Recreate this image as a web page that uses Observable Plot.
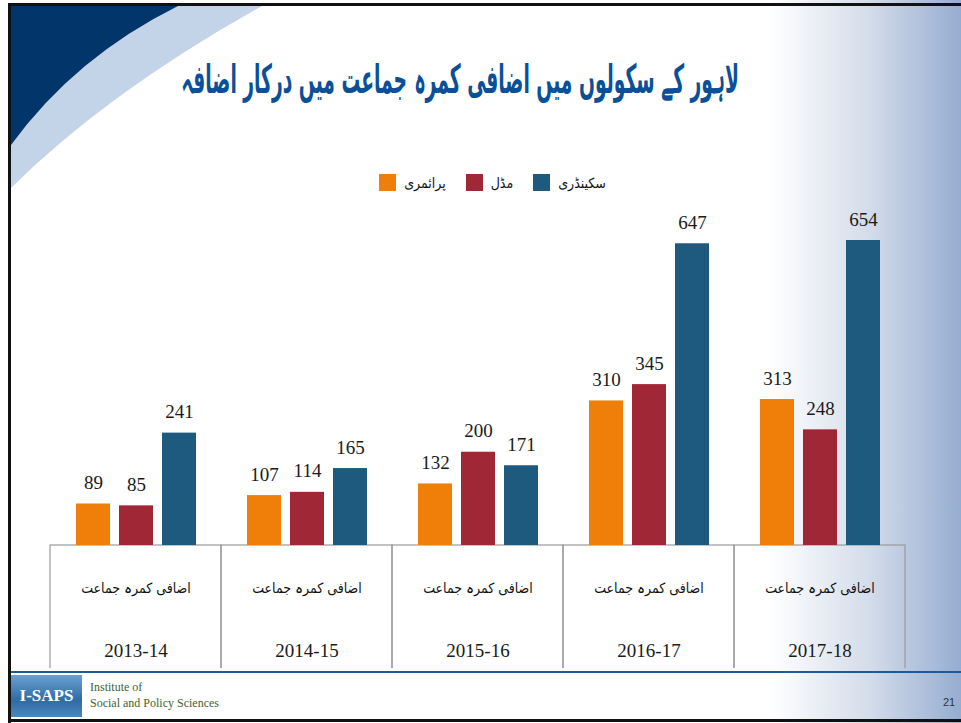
<!DOCTYPE html>
<html>
<head>
<meta charset="utf-8">
<script src="https://cdn.jsdelivr.net/npm/d3@7"></script>
<script src="https://cdn.jsdelivr.net/npm/@observablehq/plot@0.6"></script>
<style>
  html, body { margin: 0; padding: 0; background: #fff; }
  #slide { position: relative; width: 961px; height: 723px; overflow: hidden;
    background: linear-gradient(to right, #ffffff 0px, #ffffff 770px, #d3dcea 870px, #96add1 961px); }
  .abs { position: absolute; }
  #title { left: -290px; width: 1500px; top: 56px; text-align: center; direction: rtl; white-space: nowrap;
    font-family: "DejaVu Sans Condensed", "DejaVu Sans", sans-serif; font-weight: bold; font-size: 40px; color: #0b5097;
    transform: scaleX(0.52); transform-origin: 750px 50%; }
  #legend { left: 0; width: 961px; top: 174px; display: flex; justify-content: center; align-items: center;
    direction: ltr; font-family: "DejaVu Sans Condensed", "DejaVu Sans", sans-serif; font-size: 14px; color: #111; padding-left: 24px; box-sizing: border-box; }
  .sw { width: 17px; height: 17px; display: inline-block; margin-right: 8px; }
  .lab { margin-right: 20px; direction: rtl; }
  .lab:last-child { margin-right: 0; }
  #chart { left: 0; top: 200px; }
  #footline { left: 11px; top: 671px; width: 950px; height: 2px; background: #1d5a9a; }
  #logo { left: 11px; top: 675px; width: 71px; height: 42px;
    background: linear-gradient(to bottom, #6aa0cf, #2e6ca6 60%, #4d86bb); color: #fff;
    font-family: "Liberation Serif", serif; font-weight: bold; font-size: 17px; line-height: 42px; text-align: center; }
  #inst { left: 90px; top: 679px; font-family: "Liberation Serif", serif; font-size: 12px; line-height: 16px; color: #3f6331; }
  #page { left: 943px; top: 696px; font-family: "Liberation Sans", sans-serif; font-size: 11px; color: #333; }
</style>
</head>
<body>
<div id="slide">
  <svg class="abs" style="left:0;top:0" width="961" height="723">
    <path d="M11,6 L262,6 Q108,92 11,188 Z" fill="#c3d3e8"/>
    <path d="M11,6 L178,6 Q75,57 11,145 Z" fill="#02356a"/>
    <rect x="8" y="3" width="953" height="3" fill="#111"/>
    <rect x="8" y="3" width="3" height="720" fill="#111"/>
    <rect x="8" y="719" width="953" height="3" fill="#111"/>
  </svg>
  <div id="title" class="abs"></div>
  <div id="legend" class="abs"></div>
  <div id="chart" class="abs"></div>
  <div id="footline" class="abs"></div>
  <div id="logo" class="abs">I-SAPS</div>
  <div id="inst" class="abs">Institute of<br>Social and Policy Sciences</div>
  <div id="page" class="abs">21</div>
</div>
<script>
// ---- data ----
const titleText = "لاہور کے سکولوں میں اضافی کمرہ جماعت میں درکار اضافہ";
const years = ["2013-14", "2014-15", "2015-16", "2016-17", "2017-18"];
const series = ["پرائمری", "مڈل", "سکینڈری"];
const primary = [89, 107, 132, 310, 313];
const middle = [85, 114, 200, 345, 248];
const secondary = [241, 165, 171, 647, 654];
const categoryLabel = "اضافی کمرہ جماعت";
const colors = ["#f07f0a", "#a02836", "#1d5a7e"];

const valuesBySeries = [primary, middle, secondary];
const rows = [];
years.forEach((yr, i) => series.forEach((s, j) => rows.push({year: yr, series: s, value: valuesBySeries[j][i]})));

document.getElementById("title").textContent = titleText;

const legend = document.getElementById("legend");
series.forEach((s, j) => {
  const sw = document.createElement("span"); sw.className = "sw"; sw.style.background = colors[j];
  const lb = document.createElement("span"); lb.className = "lab"; lb.textContent = s;
  legend.appendChild(sw); legend.appendChild(lb);
});

const tableDepth = 1000; // the table cells run below the svg edge (clipped)
const chart = Plot.plot({
  width: 961,
  height: 468,
  marginTop: 40,
  marginBottom: 123,
  marginLeft: 49,
  marginRight: 55,
  style: {background: "transparent", overflow: "hidden"},
  fx: {domain: years, padding: 0, axis: null},
  x: {domain: series, paddingInner: 0.21, paddingOuter: 0.59, axis: null},
  y: {domain: [0, 654], axis: null},
  color: {domain: series, range: colors},
  marks: [
    Plot.rect(years, {fx: d => d, y1: 0, y2: -tableDepth, fill: "none", stroke: "#9a9a9a", strokeWidth: 1.2}),
    Plot.barY(rows, {fx: "year", x: "series", y: "value", fill: "series"}),
    Plot.text(rows, {fx: "year", x: "series", y: "value", text: d => String(d.value), lineAnchor: "bottom", dy: -15,
      fontFamily: "Liberation Serif, serif", fontSize: 19, fill: "#1a1a1a"}),
    Plot.axisFx({anchor: "bottom", tickSize: 0, tickPadding: 38, tickFormat: () => categoryLabel,
      fontFamily: "DejaVu Sans Condensed, DejaVu Sans, sans-serif", fontSize: 14, fill: "#111", label: null}),
    Plot.axisFx({anchor: "bottom", tickSize: 0, tickPadding: 98, tickFormat: d => d,
      fontFamily: "Liberation Serif, serif", fontSize: 19, fill: "#1a1a1a", label: null})
  ]
});
document.getElementById("chart").appendChild(chart);
</script>
</body>
</html>
